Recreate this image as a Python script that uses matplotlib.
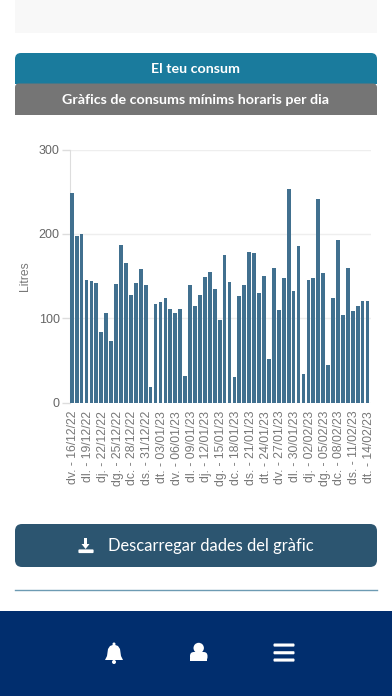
import numpy as np
import matplotlib
matplotlib.use('Agg')
import matplotlib.pyplot as plt
from matplotlib.patches import FancyBboxPatch, Rectangle, Circle, Polygon
from matplotlib.transforms import ScaledTranslation

W, H = 392, 696

consum = [248, 198, 200, 145, 144, 142, 84, 106, 73, 140, 187, 166, 127, 142, 158, 139,
          18, 117, 119, 124, 111, 106, 111, 31, 139, 115, 128, 149, 155, 134, 98, 175,
          143, 30, 126, 139, 179, 177, 130, 150, 52, 160, 110, 148, 253, 132, 186, 34,
          145, 148, 241, 154, 45, 124, 193, 104, 159, 109, 114, 120, 120]
tick_labels = ['dv. - 16/12/22', 'dl. - 19/12/22', 'dj. - 22/12/22', 'dg. - 25/12/22',
               'dc. - 28/12/22', 'ds. - 31/12/22', 'dt. - 03/01/23', 'dv. - 06/01/23',
               'dl. - 09/01/23', 'dj. - 12/01/23', 'dg. - 15/01/23', 'dc. - 18/01/23',
               'ds. - 21/01/23', 'dt. - 24/01/23', 'dv. - 27/01/23', 'dl. - 30/01/23',
               'dj. - 02/02/23', 'dg. - 05/02/23', 'dc. - 08/02/23', 'ds. - 11/02/23',
               'dt. - 14/02/23']
y_ticks = [0, 100, 200, 300]

fig = plt.figure(figsize=(W / 100, H / 100), dpi=100, facecolor='white')

# page chrome, in pixel coordinates
bg = fig.add_axes([0, 0, 1, 1])
bg.set_xlim(0, W)
bg.set_ylim(H, 0)
bg.axis('off')

def rounded(x0, y0, x1, y1, color, r=6):
    bg.add_patch(FancyBboxPatch((x0 + r, y0 + r), x1 - x0 - 2 * r, y1 - y0 - 2 * r,
                                boxstyle=f'round,pad={r},rounding_size={r}',
                                fc=color, ec='none'))

bg.add_patch(Rectangle((15, 0), 362, 33, fc='#f8f8f8', ec='none'))

rounded(15, 53, 377, 95, '#1a7b9d')
bg.add_patch(Rectangle((14, 83.5), 364, 14, fc='white', ec='none'))
rounded(15, 83.5, 377, 125, '#757575', r=4)
bg.add_patch(Rectangle((14, 114.5), 364, 12, fc='white', ec='none'))
bg.text(196, 69, 'El teu consum', color='white', fontsize=10.3, fontweight='bold',
        family='Lato', ha='center', va='center')
bg.text(196, 100, 'Gràfics de consums mínims horaris per dia', color='white', fontsize=10.3,
        fontweight='bold', family='Lato', ha='center', va='center')

# download button
rounded(15, 524, 377, 567, '#2c5570', r=7)
bg.text(108, 546, 'Descarregar dades del gràfic', color='white', fontsize=11.9,
        family='Lato', ha='left', va='center')
bg.add_patch(Rectangle((84.5, 538), 2.2, 8, fc='white', ec='none'))
bg.add_patch(Polygon([[81.5, 544], [89.5, 544], [85.6, 549]], fc='white', ec='none'))
bg.add_patch(FancyBboxPatch((79, 550), 14, 2.5, boxstyle='round,pad=0.6,rounding_size=1',
                            fc='white', ec='none'))

bg.plot([15, 377], [590, 590], color='#6d9bb3', lw=1)

# bottom nav
bg.add_patch(Rectangle((0, 611), W, 85, fc='#012e6e', ec='none'))
bg.add_patch(Polygon([[105, 660], [107, 656], [108, 649], [110, 646], [114, 644.5], [118, 646],
                      [120, 649], [121, 656], [123, 660]], fc='white', ec='none'))
bg.add_patch(Circle((114, 662), 2, fc='white', ec='none'))
bg.add_patch(Circle((114, 644), 1.5, fc='white', ec='none'))
bg.add_patch(Circle((198.7, 648), 5.2, fc='white', ec='none'))
bg.add_patch(FancyBboxPatch((194, 656), 9.5, 1, boxstyle='round,pad=4,rounding_size=4',
                            fc='white', ec='none'))
bg.add_patch(Rectangle((190, 658), 17, 3, fc='white', ec='none'))
for y in (645, 652.7, 660):
    bg.add_patch(FancyBboxPatch((275, y), 18, 0.1, boxstyle='round,pad=1.5,rounding_size=1',
                                fc='white', ec='none'))

# chart, axes placed in pixels
x0, x1, y_top, y_bot = 69.5, 370.5, 149.5, 402.5
ax = fig.add_axes([x0 / W, 1 - y_bot / H, (x1 - x0) / W, (y_bot - y_top) / H])
ax.patch.set_alpha(0)
x = np.arange(len(consum))
ax.bar(x, consum, width=0.76, color='#41708f', zorder=3)
ax.set_xlim(-0.45, len(consum) - 1 + 0.6)
ax.set_ylim(0, 300)
ax.set_yticks(y_ticks)
ax.set_xticks(x[::3])
ax.set_xticklabels(tick_labels, rotation=90, family='Liberation Sans', fontsize=8.7, color='#777777')
ax.tick_params(axis='x', length=0, pad=6)
ax.tick_params(axis='y', length=6, width=1, color='#dddddd', pad=1, labelsize=9,
               labelcolor='#666666')
# labels sit a bit right of the bar centre in the original
shift = ScaledTranslation(1.5 / 100, 0, fig.dpi_scale_trans)
for lab in ax.get_xticklabels():
    lab.set_transform(lab.get_transform() + shift)
for lab in ax.get_yticklabels():
    lab.set_family('Liberation Sans')
ax.grid(axis='y', color='#eeeeee', lw=1, zorder=0)
for s in ['top', 'right', 'bottom']:
    ax.spines[s].set_visible(False)
ax.spines['left'].set_color('#dddddd')
ax.set_ylabel('Litres', family='Liberation Sans', fontsize=8.7, color='#777777')
ax.yaxis.set_label_coords((31 - x0) / (x1 - x0), 0.5)

fig.savefig('out.png', dpi=100)
